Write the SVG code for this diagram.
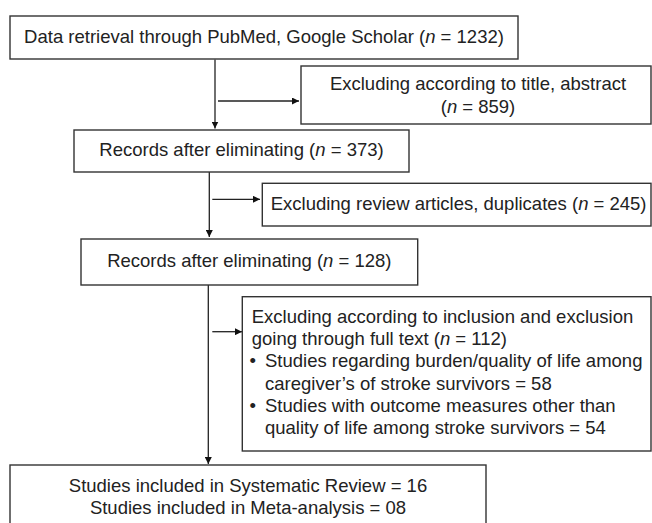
<svg xmlns="http://www.w3.org/2000/svg" width="652" height="523" viewBox="0 0 652 523">
<defs>
<style>
.box{fill:#fff;stroke:#333;stroke-width:1.4}
.t{font-family:"Liberation Sans",Arial,sans-serif;font-size:18.5px;fill:#222}
.c{text-anchor:middle}
.i{font-style:italic}
.ln{stroke:#222;stroke-width:1.3;fill:none}
</style>
<marker id="ah" viewBox="0 0 10 10" refX="10" refY="5" markerWidth="7" markerHeight="7" markerUnits="userSpaceOnUse" orient="auto">
<path d="M0,0 L10,5 L0,10 Z" fill="#111"/>
</marker>
</defs>
<rect width="652" height="523" fill="#fff"/>
<g id="connectors">
<line class="ln" x1="215" y1="59.5" x2="215" y2="128.5" marker-end="url(#ah)"/>
<line class="ln" x1="218" y1="101" x2="299" y2="101" marker-end="url(#ah)"/>
<line class="ln" x1="209.3" y1="172" x2="209.3" y2="237" marker-end="url(#ah)"/>
<line class="ln" x1="212.3" y1="199.3" x2="260" y2="199.3" marker-end="url(#ah)"/>
<line class="ln" x1="208.3" y1="285" x2="208.3" y2="464" marker-end="url(#ah)"/>
<line class="ln" x1="212.3" y1="331.7" x2="242" y2="331.7" marker-end="url(#ah)"/>
</g>
<g id="n1">
<rect class="box" x="10" y="16" width="508" height="43"/>
<text class="t c" x="264" y="42.5">Data retrieval through PubMed, Google Scholar (<tspan class="i">n</tspan> = 1232)</text>
</g>
<g id="n2">
<rect class="box" x="301" y="66" width="350" height="58"/>
<text class="t c" x="478" y="89.5">Excluding according to title, abstract</text>
<text class="t c" x="478" y="112.5">(<tspan class="i">n</tspan> = 859)</text>
</g>
<g id="n3">
<rect class="box" x="74" y="130" width="335" height="42"/>
<text class="t c" x="241.5" y="156">Records after eliminating (<tspan class="i">n</tspan> = 373)</text>
</g>
<g id="n4">
<rect class="box" x="262.3" y="183.3" width="388.7" height="42.7"/>
<text class="t" x="270.7" y="210">Excluding review articles, duplicates (<tspan class="i">n</tspan> = 245)</text>
</g>
<g id="n5">
<rect class="box" x="81" y="239" width="336.7" height="46"/>
<text class="t c" x="249.3" y="266.7">Records after eliminating (<tspan class="i">n</tspan> = 128)</text>
</g>
<g id="n6">
<rect class="box" x="242.3" y="296.7" width="408.7" height="154.3"/>
<text class="t" x="251.7" y="322.8">Excluding according to inclusion and exclusion</text>
<text class="t" x="251.7" y="345">going through full text (<tspan class="i">n</tspan> = 112)</text>
<text class="t" x="249.5" y="367.3">•<tspan x="265">Studies regarding burden/quality of life among</tspan></text>
<text class="t" x="265" y="389.5">caregiver’s of stroke survivors = 58</text>
<text class="t" x="249.5" y="411.8">•<tspan x="265">Studies with outcome measures other than</tspan></text>
<text class="t" x="265" y="434">quality of life among stroke survivors = 54</text>
</g>
<g id="n7">
<rect class="box" x="10" y="465" width="476" height="80"/>
<text class="t c" x="248" y="491.7">Studies included in Systematic Review = 16</text>
<text class="t c" x="248" y="514">Studies included in Meta-analysis = 08</text>
</g>
</svg>
